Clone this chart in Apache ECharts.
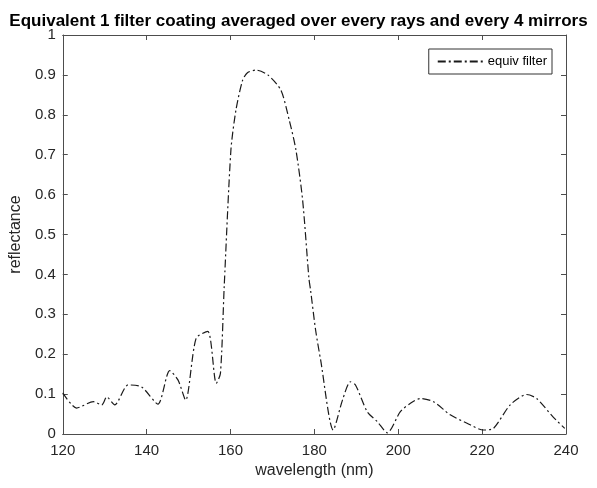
<!DOCTYPE html>
<html><head><meta charset="utf-8">
<script src="https://cdn.jsdelivr.net/npm/echarts@6/dist/echarts.min.js"></script>
<style>html,body{margin:0;padding:0;background:#fff}#c{width:597px;height:488px}</style>
</head><body><div id="c"></div>
<script>
const wavelength = [120,123.3,127.3,129.3,130.5,132.4,135.6,138.8,142.7,145.5,147.5,149.3,151.8,154.6,156.6,157.6,158.5,160.1,161.3,162.9,164.1,166.1,168.9,172.0,174.0,175.6,177.2,178.7,179.1,180.3,181.5,184.5,186.7,188.6,189.8,192.6,195.0,197.4,200.5,202.9,205.3,208.4,212.4,216.4,220.3,222.7,226.7,230.6,233.0,236.9,239.7];
const reflectance = [0.103,0.065,0.081,0.073,0.093,0.073,0.123,0.118,0.075,0.159,0.135,0.085,0.24,0.257,0.127,0.152,0.37,0.712,0.812,0.887,0.906,0.912,0.90,0.862,0.787,0.712,0.586,0.39,0.36,0.26,0.185,0.01,0.085,0.131,0.123,0.056,0.031,0.003,0.056,0.077,0.089,0.081,0.048,0.027,0.01,0.014,0.073,0.099,0.089,0.043,0.014];
const xTicks = [120,140,160,180,200,220,240];
const yTicks = [0,0.1,0.2,0.3,0.4,0.5,0.6,0.7,0.8,0.9,1];
const seriesName = 'equiv filter';

const chart = echarts.init(document.getElementById('c'));
const axisCol = '#4d4d4d';
const font = 'Liberation Sans, Arial, sans-serif';
const baseX = {type:'value', min:120, max:240, interval:20,
  axisLine:{show:true,onZero:false,lineStyle:{color:axisCol,width:1}},
  axisTick:{show:true,inside:true,length:5,lineStyle:{color:axisCol}},
  splitLine:{show:false}};
const baseY = {type:'value', min:0, max:1, interval:0.1,
  axisLine:{show:true,onZero:false,lineStyle:{color:axisCol,width:1}},
  axisTick:{show:true,inside:true,length:5,lineStyle:{color:axisCol}},
  splitLine:{show:false}};
chart.setOption({
  animation:false,
  backgroundColor:'#fff',
  title:{text:'Equivalent 1 filter coating averaged over every rays and every 4 mirrors',
    left:'center', top:8, textStyle:{fontFamily:font,fontSize:17,fontWeight:'bold',color:'#000'}},
  grid:{left:61,right:31,top:35,bottom:54},
  legend:{show:true, right:45, top:49, orient:'vertical',
    data:[seriesName], itemWidth:46, itemHeight:10, itemGap:4,
    padding:[6,5,6,8], borderColor:'#333', borderWidth:1, backgroundColor:'#fff',
    itemStyle:{opacity:0},
    textStyle:{fontFamily:font,fontSize:13,color:'#000',padding:[0,0,0,-1]}},
  xAxis:[
    Object.assign({}, baseX, {position:'bottom', name:'wavelength (nm)', nameLocation:'middle', nameGap:29,
      nameTextStyle:{fontFamily:font,fontSize:16,color:'#262626'},
      axisLabel:{show:true,margin:9,fontFamily:font,fontSize:15,color:'#262626',
        formatter:v=>xTicks.includes(v)?String(v):''}}),
    Object.assign({}, baseX, {position:'top', axisLabel:{show:false}})
  ],
  yAxis:[
    Object.assign({}, baseY, {position:'left', name:'reflectance', nameLocation:'middle', nameGap:37,
      nameTextStyle:{fontFamily:font,fontSize:16,color:'#262626'},
      axisLabel:{show:true,margin:7,fontFamily:font,fontSize:15,color:'#262626',
        formatter:v=>{const t=yTicks.find(y=>Math.abs(y-v)<1e-9); return t===undefined?'':String(t);}}}),
    Object.assign({}, baseY, {position:'right', axisLabel:{show:false}})
  ],
  series:[{
    name:seriesName, type:'line', xAxisIndex:0, yAxisIndex:0,
    data:wavelength.map((w,i)=>[w,reflectance[i]]),
    showSymbol:false, symbol:'none', smooth:0.25,
    lineStyle:{color:'#1a1a1a', width:1.2, type:[8,3,2,3]},
    itemStyle:{color:'#1a1a1a'}
  }]
});
</script></body></html>
